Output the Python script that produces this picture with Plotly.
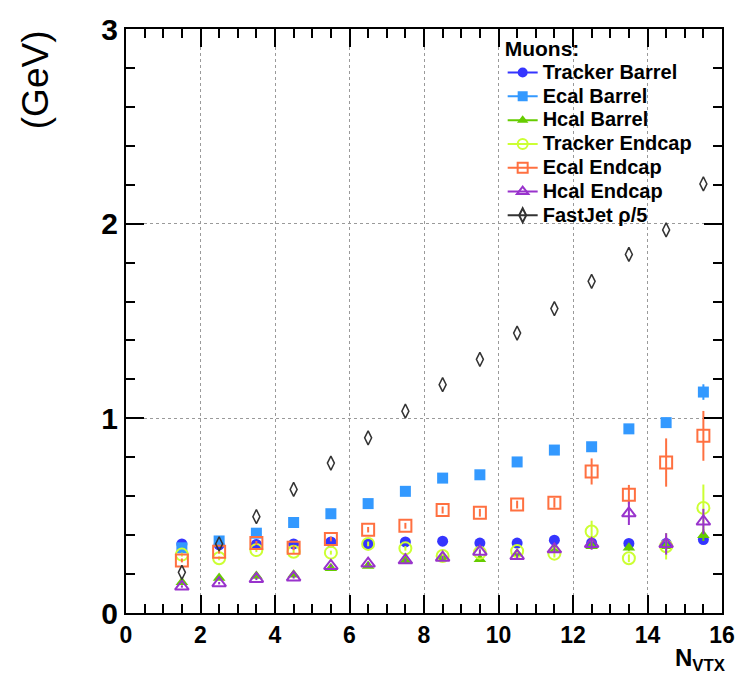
import plotly.graph_objects as go

# Pile-up bins (number of reconstructed vertices)
n_vtx = [1.5, 2.5, 3.5, 4.5, 5.5, 6.5, 7.5, 8.5, 9.5, 10.5, 11.5, 12.5, 13.5, 14.5, 15.5]

tracker_barrel = [0.355, 0.350, 0.352, 0.355, 0.365, 0.355, 0.365, 0.369, 0.359, 0.359, 0.374, 0.360, 0.357, 0.357, 0.377]
tracker_barrel_err = [0.008, 0.006, 0.006, 0.006, 0.006, 0.006, 0.006, 0.007, 0.007, 0.008, 0.009, 0.010, 0.012, 0.015, 0.02]

ecal_barrel = [0.335, 0.370, 0.410, 0.465, 0.510, 0.562, 0.625, 0.693, 0.710, 0.776, 0.837, 0.854, 0.946, 0.978, 1.135]
ecal_barrel_err = [0.01, 0.01, 0.01, 0.01, 0.01, 0.012, 0.012, 0.014, 0.015, 0.016, 0.018, 0.02, 0.022, 0.025, 0.04]

hcal_barrel = [0.158, 0.180, 0.190, 0.197, 0.230, 0.242, 0.268, 0.281, 0.276, 0.305, 0.327, 0.343, 0.335, 0.343, 0.400]
hcal_barrel_err = [0.006, 0.005, 0.005, 0.005, 0.005, 0.006, 0.006, 0.007, 0.008, 0.009, 0.01, 0.012, 0.015, 0.03, 0.03]

tracker_endcap = [0.300, 0.281, 0.323, 0.315, 0.310, 0.355, 0.332, 0.293, 0.310, 0.318, 0.305, 0.419, 0.281, 0.343, 0.540]
tracker_endcap_err = [0.01, 0.01, 0.01, 0.01, 0.01, 0.012, 0.012, 0.014, 0.015, 0.016, 0.02, 0.055, 0.02, 0.068, 0.12]

ecal_endcap = [0.270, 0.315, 0.360, 0.335, 0.380, 0.428, 0.448, 0.529, 0.515, 0.557, 0.566, 0.727, 0.608, 0.773, 0.910]
ecal_endcap_err = [0.01, 0.01, 0.01, 0.012, 0.012, 0.014, 0.015, 0.018, 0.02, 0.02, 0.025, 0.067, 0.05, 0.124, 0.128]

hcal_endcap = [0.136, 0.153, 0.175, 0.183, 0.242, 0.254, 0.271, 0.284, 0.315, 0.293, 0.327, 0.355, 0.512, 0.355, 0.470]
hcal_endcap_err = [0.006, 0.006, 0.006, 0.006, 0.007, 0.008, 0.009, 0.01, 0.012, 0.014, 0.016, 0.03, 0.06, 0.055, 0.065]

fastjet_rho5 = [0.209, 0.355, 0.495, 0.635, 0.770, 0.900, 1.037, 1.173, 1.303, 1.438, 1.564, 1.704, 1.842, 1.968, 2.204]

x_ticks = [0, 2, 4, 6, 8, 10, 12, 14, 16]
y_ticks = [0, 1, 2, 3]

series = [
    ("Tracker Barrel", tracker_barrel, tracker_barrel_err, "#3535ff", "circle", 11),
    ("Ecal Barrel", ecal_barrel, ecal_barrel_err, "#3399ff", "square", 11),
    ("Hcal Barrel", hcal_barrel, hcal_barrel_err, "#66cc00", "triangle-up", 11),
    ("Tracker Endcap", tracker_endcap, tracker_endcap_err, "#ccff33", "circle-open", 12),
    ("Ecal Endcap", ecal_endcap, ecal_endcap_err, "#ff7040", "square-open", 12),
    ("Hcal Endcap", hcal_endcap, hcal_endcap_err, "#9933cc", "triangle-up-open", 12),
    ("FastJet \u03c1/5", fastjet_rho5, None, "#333333", "diamond-tall-open", 10),
]

fig = go.Figure()

for name, vals, errs, color, symbol, size in series:
    open_marker = symbol.endswith("open")
    marker = dict(symbol=symbol, size=size, color=color,
                  line=dict(color=color, width=2 if open_marker else 0))
    if symbol.startswith("diamond"):
        marker["line"]["width"] = 1.5
    err = None
    if errs is not None:
        err = dict(type="data", array=errs, visible=True, color=color,
                   thickness=2, width=0)
    fig.add_trace(go.Scatter(x=n_vtx, y=vals, mode="markers", marker=marker,
                             error_y=err, showlegend=False, name=name))

# Legend entries: marker with a short line through it
for name, vals, errs, color, symbol, size in series:
    open_marker = symbol.endswith("open")
    fig.add_trace(go.Scatter(
        x=[None], y=[None], mode="lines+markers",
        line=dict(color=color, width=2),
        marker=dict(symbol=symbol, size=min(size, 10), color=color,
                    line=dict(color=color, width=2 if open_marker else 0)),
        name=f'<span style="font-size:20px">{name}</span>',
        showlegend=True))

axis_common = dict(
    showline=True, linecolor="black", linewidth=2, mirror="allticks",
    ticks="inside", ticklen=18, tickwidth=1.5, tickcolor="black",
    showgrid=True, gridcolor="#9a9a9a", griddash="dot", gridwidth=1,
    zeroline=False,
)

fig.update_xaxes(
    range=[0, 16], tickvals=x_ticks, ticktext=[str(v) for v in x_ticks],
    tickfont=dict(family="Liberation Sans", size=23, color="black", weight="bold"),
    minor=dict(dtick=0.5, ticks="inside", ticklen=9, tickwidth=1.5,
               tickcolor="black", showgrid=False),
    **axis_common)
fig.update_yaxes(
    range=[0, 3], tickvals=y_ticks, ticktext=[str(v) for v in y_ticks],
    tickfont=dict(family="Liberation Sans", size=30, color="black", weight="bold"),
    minor=dict(dtick=0.2, ticks="inside", ticklen=9, tickwidth=1.5,
               tickcolor="black", showgrid=False),
    **axis_common)

# White panel behind the legend text (covers the grid, not the markers)
fig.add_shape(type="rect", xref="paper", yref="paper",
              x0=0.632, x1=0.997, y0=0.69, y1=0.975,
              fillcolor="white", line=dict(width=0), layer="between")

fig.add_annotation(text="(GeV)", xref="paper", yref="paper",
                   x=-0.152, y=0.913, xanchor="center", yanchor="middle",
                   textangle=-90, showarrow=False,
                   font=dict(family="Liberation Sans", size=37, color="black"))
fig.add_annotation(text="N<sub>VTX</sub>", xref="paper", yref="paper",
                   x=1.01, y=-0.05, xanchor="right", yanchor="top",
                   showarrow=False,
                   font=dict(family="Liberation Sans", size=24, color="black",
                             weight="bold"))

fig.update_layout(
    width=747, height=678,
    margin=dict(l=126, r=12, t=20, b=65),
    paper_bgcolor="white", plot_bgcolor="white",
    legend=dict(
        x=0.632, y=0.99, xanchor="left", yanchor="top",
        bgcolor="rgba(0,0,0,0)", borderwidth=0,
        font=dict(family="Liberation Sans", size=16, color="black", weight="bold"),
        title=dict(text='<span style="font-size:21px">Muons:</span>',
                   font=dict(family="Liberation Sans", size=16, color="black",
                             weight="bold")),
        tracegroupgap=0,
    ),
)

fig.write_html("out.html")
